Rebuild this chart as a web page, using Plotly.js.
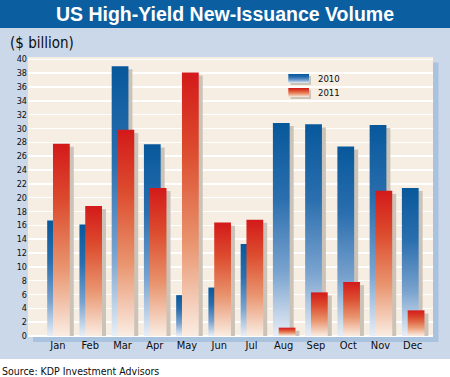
<!DOCTYPE html>
<html><head><meta charset="utf-8">
<script src="https://cdn.plot.ly/plotly-3.0.1.min.js"></script>
<style>html,body{margin:0;padding:0;background:#fff;} #chart{width:450px;height:377px;}</style>
</head><body><div id="chart"></div>
<script>
// ---- data ----
const months = ['Jan','Feb','Mar','Apr','May','Jun','Jul','Aug','Sep','Oct','Nov','Dec'];
const vol2010 = [16.7, 16.1, 39.0, 27.7, 5.9, 7.0, 13.3, 30.8, 30.6, 27.4, 30.5, 21.4];
const vol2011 = [27.8, 18.8, 29.8, 21.4, 38.1, 16.4, 16.8, 1.2, 6.3, 7.8, 21.0, 3.7];
const seriesNames = ['2010', '2011'];
const yTicks = [0,2,4,6,8,10,12,14,16,18,20,22,24,26,28,30,32,34,36,38,40];
const titleText = 'US High-Yield New-Issuance Volume';
const unitText = '($ billion)';
const sourceText = 'Source: KDP Investment Advisors';

// ---- geometry ----
const W = 450, H = 377, L = 28, R = 17, T = 57, B = 40;
const PW = W - L - R, PH = H - T - B;
const px = x => (x - L) / PW;
const py = y => (H - B - y) / PH;

const FONT = '"DejaVu Sans Condensed", "DejaVu Sans", sans-serif';
const TXT = '#0d0d0d';
const barW = 0.52, off2010 = -0.335, off2011 = -0.155, shX = 0.124, shY = 0.45;
const shadowCol = '#cbc3b8';

function shadowVals(a){ return a.map(v => Math.max(v - shY, 0)); }

const traces = [
  {type:'bar', x:months, y:shadowVals(vol2010), offset:off2010+shX, width:barW,
   marker:{color:shadowCol, line:{width:0}}, hoverinfo:'skip', showlegend:false},
  {type:'bar', x:months, y:vol2010, name:seriesNames[0], offset:off2010, width:barW,
   marker:{color:'#0b5fa1', line:{width:0}}, showlegend:false},
  {type:'bar', x:months, y:shadowVals(vol2011), offset:off2011+shX, width:barW,
   marker:{color:shadowCol, line:{width:0}}, hoverinfo:'skip', showlegend:false},
  {type:'bar', x:months, y:vol2011, name:seriesNames[1], offset:off2011, width:barW,
   marker:{color:'#d42020', line:{width:0}}, showlegend:false}
];

const rect = (x0,x1,y0,y1,color,layer) => ({type:'rect', xref:'paper', yref:'paper',
  x0:px(x0), x1:px(x1), y0:py(y1), y1:py(y0), fillcolor:color, line:{width:0}, layer:layer});

const shapes = [
  rect(0, 450, 0, 359, '#cad8ea', 'below'),
  rect(0, 450, 0, 28, '#0b5fa1', 'below'),
  rect(33, 438.5, 62.5, 342, '#a9c2de', 'below'),
  rect(28, 433, 57, 337, '#f6eee3', 'below'),
  // legend swatches
  rect(290.5, 311, 76, 85, shadowCol, 'above'),
  rect(288.3, 309, 74, 83, '#0b5fa1', 'above'),
  rect(290.5, 311, 90, 99, shadowCol, 'above'),
  rect(288.3, 309, 88, 97, '#d42020', 'above')
];

const ann = (text, x, y, size, anchor) => ({text:text, xref:'paper', yref:'paper',
  x:px(x), y:py(y), xanchor:anchor||'left', yanchor:'middle', showarrow:false,
  font:{family:FONT, size:size, color:TXT}});

const layout = {
  width:W, height:H,
  margin:{l:L, r:R, t:T, b:B, pad:0},
  paper_bgcolor:'#ffffff', plot_bgcolor:'rgba(0,0,0,0)',
  barmode:'overlay', showlegend:false,
  title:{text:titleText, xref:'container', yref:'container', x:0.5, xanchor:'center',
    y:1 - 14/H, yanchor:'middle',
    font:{family:'"Liberation Sans", Arial, sans-serif', size:19.5, color:'#ffffff', weight:'bold'}},
  xaxis:{type:'category', range:[-0.93, 11.63], showgrid:false, zeroline:false, showline:false,
    ticks:'', tickfont:{family:FONT, size:11, color:TXT}, fixedrange:true},
  yaxis:{range:[-0.15, 40.33], tickvals:yTicks, ticktext:yTicks.map(String), showgrid:true,
    gridcolor:'#ffffff', gridwidth:1.5, zeroline:false, showline:false, ticks:'',
    tickfont:{family:FONT, size:9, color:TXT}, fixedrange:true},
  shapes:shapes,
  annotations:[
    ann(unitText, 8, 43, 15),
    ann(sourceText, 0, 370.5, 10.5),
    ann(seriesNames[0], 316, 78.5, 9.5),
    ann(seriesNames[1], 316, 92.5, 9.5)
  ]
};

function addGrad(svg, id, stops){
  const ns = 'http://www.w3.org/2000/svg';
  let defs = svg.querySelector('defs');
  if(!defs){ defs = document.createElementNS(ns,'defs'); svg.insertBefore(defs, svg.firstChild); }
  const lg = document.createElementNS(ns,'linearGradient');
  lg.setAttribute('id', id);
  lg.setAttribute('x1','0'); lg.setAttribute('y1','0'); lg.setAttribute('x2','0'); lg.setAttribute('y2','1');
  stops.forEach(s => { const st = document.createElementNS(ns,'stop');
    st.setAttribute('offset', s[0]); st.setAttribute('stop-color', s[1]); lg.appendChild(st); });
  defs.appendChild(lg);
}

Plotly.newPlot('chart', traces, layout, {staticPlot:true, displayModeBar:false}).then(gd => {
  const svg = gd.querySelector('.main-svg');
  addGrad(svg, 'gBlue', [['0','#07589b'],['0.35','#2a6eae'],['0.7','#7aa3cf'],['1','#e8eef6']]);
  addGrad(svg, 'gRed', [['0','#d31a1a'],['0.3','#dc4c2e'],['0.65','#e9956f'],['1','#faede3']]);
  const tr = gd.querySelectorAll('.barlayer .trace');
  const fills = [null, 'url(#gBlue)', null, 'url(#gRed)'];
  tr.forEach((t,i) => { if(fills[i]) t.querySelectorAll('path').forEach(p => p.style.fill = fills[i]); });
  const sh = gd.querySelectorAll('.layer-above .shapelayer path');
  if(sh.length >= 4){ sh[1].style.fill = 'url(#gBlue)'; sh[3].style.fill = 'url(#gRed)'; }
});
</script>
</body></html>
